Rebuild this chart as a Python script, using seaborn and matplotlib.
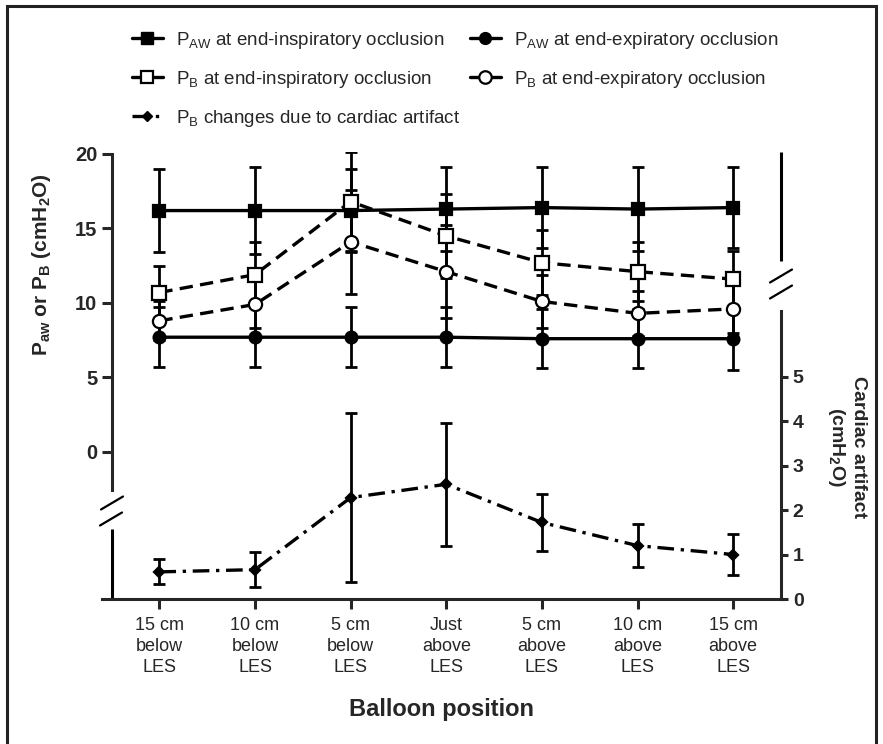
import numpy as np
import matplotlib
matplotlib.use("Agg")
import matplotlib.pyplot as plt
import matplotlib.transforms as mtransforms
import seaborn as sns
from matplotlib.lines import Line2D
from matplotlib.patches import Rectangle

# balloon positions along the oesophagus
positions = ["15 cm\nbelow\nLES", "10 cm\nbelow\nLES", "5 cm\nbelow\nLES", "Just\nabove\nLES",
             "5 cm\nabove\nLES", "10 cm\nabove\nLES", "15 cm\nabove\nLES"]

# left axis (cmH2O): mean and SD
paw_insp = [16.2, 16.2, 16.2, 16.3, 16.4, 16.3, 16.4]
paw_insp_sd = [2.8, 2.9, 2.8, 2.8, 2.7, 2.8, 2.7]
paw_exp = [7.7, 7.7, 7.7, 7.7, 7.6, 7.6, 7.6]
paw_exp_sd = [2.0, 2.0, 2.0, 2.0, 2.0, 2.0, 2.1]
pb_insp = [10.7, 11.9, 16.8, 14.5, 12.7, 12.1, 11.6]
pb_insp_sd = [1.8, 2.2, 3.3, 2.8, 2.2, 2.0, 1.9]
pb_exp = [8.8, 9.9, 14.1, 12.1, 10.1, 9.3, 9.6]
pb_exp_sd = [1.3, 1.6, 3.5, 3.1, 1.8, 1.5, 1.6]

# right axis: cardiac artifact (cmH2O)
cardiac = [0.61, 0.66, 2.28, 2.58, 1.72, 1.20, 1.00]
cardiac_sd = [0.28, 0.40, 1.90, 1.38, 0.64, 0.48, 0.47]

sns.set_style("ticks")
plt.rcParams["font.family"] = ["Liberation Sans", "DejaVu Sans"]
plt.rcParams["mathtext.fontset"] = "custom"
plt.rcParams["mathtext.rm"] = "Liberation Sans"
plt.rcParams["mathtext.it"] = "Liberation Sans:italic"
plt.rcParams["mathtext.bf"] = "Liberation Sans:bold"
plt.rcParams["axes.linewidth"] = 2.2

W, H = 883, 744


def px(x, y):
    # figure pixel -> figure fraction
    return x / W, 1 - y / H


fig = plt.figure(figsize=(W / 100, H / 100), dpi=100)
ax = fig.add_axes([102 / W, 145 / H, 679 / W, 447 / H])
ax2 = ax.twinx()

x = np.arange(len(positions))
lw = 2.4
dash = (0, (4, 2.2))
dashdot = (0, (5, 2, 1, 2))

series = [
    (ax, paw_insp, paw_insp_sd, "s", "black", "-", 9),
    (ax, paw_exp, paw_exp_sd, "o", "black", "-", 8.5),
    (ax, pb_insp, pb_insp_sd, "s", "white", dash, 9.5),
    (ax, pb_exp, pb_exp_sd, "o", "white", dash, 9.5),
    (ax2, cardiac, cardiac_sd, "D", "black", dashdot, 5.5),
]

for a, vals, sd, m, fc, ls, ms in series:
    a.errorbar(x, vals, yerr=sd, fmt="none", ecolor="black", elinewidth=2,
               capsize=4, capthick=2, zorder=2)
    sns.lineplot(x=x, y=vals, ax=a, color="black", lw=lw, linestyle=ls,
                 marker=m, markersize=ms, markerfacecolor=fc,
                 markeredgecolor="black", markeredgewidth=1.6,
                 errorbar=None, zorder=3)

ax.set_xlim(-0.6, 6.5)
ax.set_ylim(-9.87, 20.13)
ax2.set_ylim(0, 10.05)

# left axis with a break below zero
inset = 10 / 679
ax.spines["top"].set_visible(False)
ax.spines["right"].set_visible(False)
ax.spines["left"].set_position(("axes", inset))
ax.spines["left"].set_bounds(-2.55, 20)
ax.set_yticks([0, 5, 10, 15, 20])
tr = mtransforms.blended_transform_factory(ax.transAxes, ax.transData)
ax.plot([inset, inset], [-9.87, -5.2], transform=tr, color="black", lw=2.2,
        clip_on=False, solid_capstyle="butt")

# right axis with a break above 6
for s in ["top", "left", "bottom"]:
    ax2.spines[s].set_visible(False)
ax2.spines["right"].set_bounds(0, 6.47)
ax2.set_yticks(range(6))
tr2 = mtransforms.blended_transform_factory(ax2.transAxes, ax2.transData)
ax2.plot([1, 1], [7.6, 10.05], transform=tr2, color="black", lw=2.2,
         clip_on=False, solid_capstyle="butt")

# break marks "//"
for cx, cy in [(112, 503), (111, 519), (781, 276), (781, 292)]:
    x0, y0 = px(cx - 11, cy + 6.5)
    x1, y1 = px(cx + 11, cy - 6.5)
    fig.add_artist(Line2D([x0, x1], [y0, y1], transform=fig.transFigure,
                          color="black", lw=1.6))

ax.set_xticks(x)
ax.set_xticklabels(positions, fontsize=13, linespacing=1.3)
ax.tick_params(axis="x", length=7, width=2.2, pad=6)
ax.tick_params(axis="y", length=7, width=2.2, labelsize=14.5, pad=3.5)
ax2.tick_params(axis="y", length=5, width=2.2, labelsize=14, pad=3.5)
for lbl in ax.get_yticklabels() + ax2.get_yticklabels():
    lbl.set_fontweight("bold")

ax.set_xlabel("Balloon position", fontsize=17, fontweight="bold", labelpad=16)
ax.set_ylabel("")
ax2.set_ylabel("")

fig.text(*px(42, 265), r"P$_\mathbf{aw}$ or P$_\mathbf{B}$ (cmH$_\mathbf{2}$O)",
         rotation=90, ha="center", va="center", fontsize=15, fontweight="bold")
fig.text(*px(846, 447), "Cardiac artifact\n(cmH$_\\mathbf{2}$O)", rotation=270,
         ha="center", va="center", multialignment="center", fontsize=14,
         fontweight="bold")

# legend
handles = [
    Line2D([], [], color="black", lw=lw, marker="s", ms=9, mfc="black", mec="black"),
    Line2D([], [], color="black", lw=lw, marker="s", ms=9, mfc="white", mec="black", mew=1.6),
    Line2D([], [], color="black", lw=lw, ls=dashdot, marker="D", ms=5.5, mfc="black", mec="black"),
    Line2D([], [], color="black", lw=lw, marker="o", ms=8.5, mfc="black", mec="black"),
    Line2D([], [], color="black", lw=lw, marker="o", ms=9, mfc="white", mec="black", mew=1.6),
]
labels = [
    r"P$_\mathrm{AW}$ at end-inspiratory occlusion",
    r"P$_\mathrm{B}$ at end-inspiratory occlusion",
    r"P$_\mathrm{B}$ changes due to cardiac artifact",
    r"P$_\mathrm{AW}$ at end-expiratory occlusion",
    r"P$_\mathrm{B}$ at end-expiratory occlusion",
]
fig.legend(handles, labels, loc="upper left", bbox_to_anchor=px(132, 30), ncol=2,
           frameon=False, fontsize=13.5, handlelength=1.65, handletextpad=0.7,
           columnspacing=0.5, labelspacing=0.95, borderaxespad=0, borderpad=0)

# frame around the whole figure
fig.add_artist(Rectangle(px(7, 752), (876 - 7) / W, (752 - 6) / H,
                         transform=fig.transFigure, fill=False, lw=2.2,
                         edgecolor="#222222"))

fig.savefig("out.png", dpi=100)
